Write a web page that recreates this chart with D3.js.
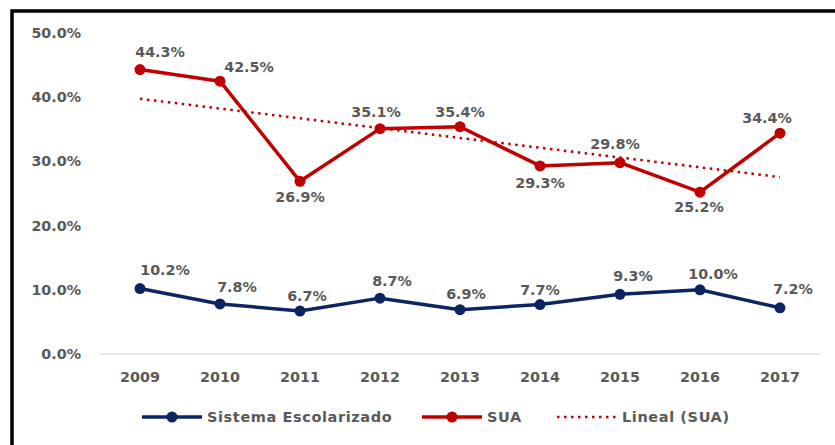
<!DOCTYPE html>
<html lang="es">
<head>
<meta charset="utf-8">
<title>SUA vs Sistema Escolarizado</title>
<script src="https://cdnjs.cloudflare.com/ajax/libs/d3/7.8.5/d3.min.js"></script>
<style>
  body { margin: 0; background: #ffffff; }
  text { font-family: "DejaVu Sans", Verdana, sans-serif; font-weight: bold; fill: #595959; }
</style>
</head>
<body>
<svg id="chart" width="835" height="445"></svg>
<script>
const years = ["2009", "2010", "2011", "2012", "2013", "2014", "2015", "2016", "2017"];
const escolarizado = [10.2, 7.8, 6.7, 8.7, 6.9, 7.7, 9.3, 10.0, 7.2];
const sua = [44.3, 42.5, 26.9, 35.1, 35.4, 29.3, 29.8, 25.2, 34.4];
const yTicks = [0, 10, 20, 30, 40, 50];

// label nudges (px) as placed in the original
const suaLabelShift = [[20, -18], [29, -14], [0, 16], [-4, -17], [0, -15], [0, 17], [-5, -19], [-1, 15], [-13, -15]];
const escLabelShift = [[25, -19], [17, -17], [7, -15], [12, -17], [6, -16], [0, -15], [13, -18], [13, -16], [13, -19]];

const navy = "#0c2461";
const red = "#c00000";
const fs = 14.3;

const svg = d3.select("#chart");

// frame
svg.append("path")
  .attr("d", "M12,445 L12,11 L835,11")
  .attr("fill", "none")
  .attr("stroke", "#000")
  .attr("stroke-width", 3.5);

const x = d3.scalePoint().domain(years).range([100, 820]).padding(0.5);
const y = d3.scaleLinear().domain([0, 50]).range([354, 33]);

// baseline
svg.append("line")
  .attr("x1", 100).attr("x2", 820)
  .attr("y1", y(0)).attr("y2", y(0))
  .attr("stroke", "#d0d0d8").attr("stroke-width", 1);

// y axis labels
svg.selectAll(".ytick")
  .data(yTicks)
  .enter().append("text")
  .attr("class", "ytick")
  .attr("x", 81)
  .attr("y", d => y(d))
  .attr("dy", "0.35em")
  .attr("text-anchor", "end")
  .attr("font-size", fs)
  .text(d => d.toFixed(1) + "%");

// x axis labels
svg.selectAll(".xtick")
  .data(years)
  .enter().append("text")
  .attr("class", "xtick")
  .attr("x", d => x(d))
  .attr("y", 377)
  .attr("dy", "0.35em")
  .attr("text-anchor", "middle")
  .attr("font-size", fs)
  .text(d => d);

// linear trend of SUA
const n = sua.length;
const xs = d3.range(1, n + 1);
const mx = d3.mean(xs), my = d3.mean(sua);
const slope = d3.sum(xs, (v, i) => (v - mx) * (sua[i] - my)) / d3.sum(xs, v => (v - mx) * (v - mx));
const intercept = my - slope * mx;
svg.append("line")
  .attr("x1", x(years[0])).attr("y1", y(intercept + slope * 1))
  .attr("x2", x(years[n - 1])).attr("y2", y(intercept + slope * n))
  .attr("stroke", red)
  .attr("stroke-width", 2.5)
  .attr("stroke-dasharray", "2.5,4.5");

const line = d3.line().x((d, i) => x(years[i])).y(d => y(d));

function drawSeries(values, color, shifts) {
  svg.append("path")
    .datum(values)
    .attr("d", line)
    .attr("fill", "none")
    .attr("stroke", color)
    .attr("stroke-width", 3.5)
    .attr("stroke-linejoin", "round");
  svg.selectAll(null)
    .data(values)
    .enter().append("circle")
    .attr("cx", (d, i) => x(years[i]))
    .attr("cy", d => y(d))
    .attr("r", 5.5)
    .attr("fill", color);
  svg.selectAll(null)
    .data(values)
    .enter().append("text")
    .attr("x", (d, i) => x(years[i]) + shifts[i][0])
    .attr("y", (d, i) => y(d) + shifts[i][1])
    .attr("dy", "0.35em")
    .attr("text-anchor", "middle")
    .attr("font-size", fs)
    .text(d => d.toFixed(1) + "%");
}

drawSeries(sua, red, suaLabelShift);
drawSeries(escolarizado, navy, escLabelShift);

// legend
const legend = [
  { label: "Sistema Escolarizado", color: navy, x0: 142, dotted: false },
  { label: "SUA", color: red, x0: 422, dotted: false },
  { label: "Lineal (SUA)", color: red, x0: 557, dotted: true }
];
const ly = 417;
legend.forEach(l => {
  const g = svg.append("g");
  g.append("line")
    .attr("x1", l.x0).attr("x2", l.x0 + 60)
    .attr("y1", ly).attr("y2", ly)
    .attr("stroke", l.color)
    .attr("stroke-width", l.dotted ? 2.5 : 3.5)
    .attr("stroke-dasharray", l.dotted ? "2.5,4.5" : null);
  if (!l.dotted) {
    g.append("circle").attr("cx", l.x0 + 30).attr("cy", ly).attr("r", 5.5).attr("fill", l.color);
  }
  g.append("text")
    .attr("x", l.x0 + 65)
    .attr("y", ly)
    .attr("dy", "0.35em")
    .attr("font-size", 14.5)
    .attr("letter-spacing", 0.6)
    .text(l.label);
});
</script>
</body>
</html>
